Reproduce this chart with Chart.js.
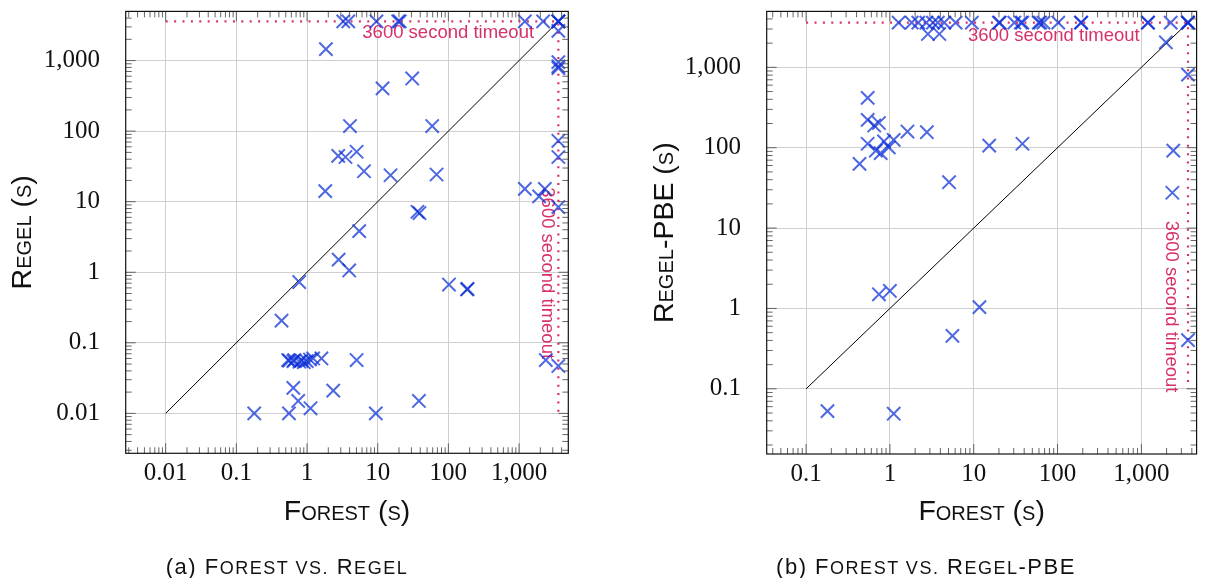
<!DOCTYPE html>
<html><head><meta charset="utf-8">
<script src="https://cdn.jsdelivr.net/npm/chart.js@4.4.1/dist/chart.umd.min.js"></script>
<style>
html,body{margin:0;padding:0;background:#fff;}
#wrap{position:relative;width:1208px;height:578px;overflow:hidden;background:#fff;}
canvas{position:absolute;top:0;}
#c1{left:0;} #c2{left:600px;}
.cap{position:absolute;top:554px;line-height:26px;font-family:"Liberation Sans",Arial,sans-serif;font-size:22px;color:#111;white-space:nowrap;transform:translateX(-50%);letter-spacing:1.5px;}
.s{font-size:0.82em;}
</style></head><body>
<div id="wrap">
<canvas id="c1" width="600" height="578"></canvas>
<canvas id="c2" width="608" height="578"></canvas>
<div class="cap" style="left:287px">(a) F<span class="s">OREST VS.</span> R<span class="s">EGEL</span></div>
<div class="cap" style="left:926px">(b) F<span class="s">OREST VS.</span> R<span class="s">EGEL</span>-PBE</div>
</div>
<script>
// ---- data: (a) Forest vs. Regel ----
const regelForest = [3.25,3.83,9.6,19.5,20.5,1208,2193,3600,3600,3600,
  3600,3600,3600,3600,3600,3600,3600,3600,
  2393,1208,2317,1923,
  1.85,11.7,30.8,4.05,59,2.76,3.5,5.03,6.4,15.2,68,1.81,36.5,39,
  5.47,2.8,3.95,0.776,102,184,187,0.436,
  0.54,0.56,0.64,0.66,0.78,0.84,0.9,0.99,1.1,1.22,1.6,5.03,
  0.64,2.35,0.75,38.3,1.12,0.179,0.555,9.4];
const regelTime = [3600,3600,3600,3600,3600,3600,3600,3600,3600,3600,
  2640,950,830,780,73,43,8.4,0.047,
  0.057,15.2,15.2,11.9,
  1456,403,558,118,118,44.6,43,51,27,23.7,24.3,14.1,7.2,6.9,
  3.83,1.51,1.06,0.726,0.67,0.57,0.58,0.206,
  0.057,0.056,0.055,0.057,0.054,0.056,0.053,0.055,0.058,0.06,0.06,0.057,
  0.023,0.021,0.015,0.015,0.0118,0.01,0.01,0.01];

// ---- data: (b) Forest vs. Regel-PBE ----
const pbeForest = [1.27,1.82,2.18,2.72,3.26,3.73,4.45,6.08,9.5,20.4,20,30.5,36.5,38,59.7,62,68,102,190,192,1197,1200,2240,3600,3600,3600,
  2.84,3.89,1960,3600,
  0.543,0.543,0.65,0.74,1.62,2.76,0.543,0.85,1.11,0.68,0.776,0.97,0.434,
  5.08,15.3,38.1,2404,2343,0.74,1.0,11.7,5.57,3600,0.18,1.11];
const pbeTime = [3600,3600,3600,3600,3600,3600,3600,3600,3600,3600,3600,3600,3600,3600,3600,3600,3600,3600,3600,3600,3600,3600,3600,3600,3600,3600,
  2600,2600,2050,811,
  417,222,189,203,159,156,112,120,125,92,85.5,101,63,
  37.2,106,112,92,27.5,1.5,1.65,1.04,0.455,0.403,0.0528,0.049];

// ---- reference lines ----
const timeout = 3600;
const diagA = [0.01, 3600];
const diagB = [0.1, 3600];

// ---- ticks ----
const ticksA = [0.01, 0.1, 1, 10, 100, 1000];
const labelsA = ['0.01', '0.1', '1', '10', '100', '1,000'];
const ticksB = [0.1, 1, 10, 100, 1000];
const labelsB = ['0.1', '1', '10', '100', '1,000'];

const noteText = '3600 second timeout';
const titleX = 'Forest (s)';
const titleYA = 'Regel (s)';
const titleYB = 'Regel-PBE (s)';

// ---- styles ----
const MARK = 'rgba(10,45,215,0.72)';
const RED = '#d8306a';
const TICKFONT = {family: '"Liberation Serif", "DejaVu Serif", serif', size: 25};
const TITLEFONT = {family: '"Liberation Sans", Arial, sans-serif', size: 28.5, weight: 'small-caps'};

const framePlugin = {
  id: 'frame',
  beforeDatasetsDraw(chart, args, o) {
    const {ctx, scales: {x, y}} = chart;
    const px = x.getPixelForValue(timeout), py = y.getPixelForValue(timeout);
    ctx.save();
    ctx.fillStyle = RED;
    ctx.font = '18.5px "Liberation Sans", Arial, sans-serif';
    ctx.textAlign = 'right'; ctx.textBaseline = 'middle';
    ctx.fillText(noteText, px + o.hDx, py + o.hDy);
    ctx.translate(px + o.vDx, py + o.vDy);
    ctx.rotate(Math.PI / 2);
    ctx.textAlign = 'left';
    ctx.fillText(noteText, 0, 0);
    ctx.restore();
  },
  afterDraw(chart) {
    const {ctx, chartArea: a, scales: {x, y}} = chart;
    ctx.save();
    ctx.strokeStyle = '#555'; ctx.lineWidth = 0.9;
    const seg = (x1, y1, x2, y2) => { ctx.beginPath(); ctx.moveTo(x1, y1); ctx.lineTo(x2, y2); ctx.stroke(); };
    const each = (scale, fn) => {
      for (let e = Math.floor(Math.log10(scale.min)); e <= Math.ceil(Math.log10(scale.max)); e++) {
        for (let k = 1; k <= 9; k++) {
          const v = k * Math.pow(10, e);
          if (v < scale.min || v > scale.max) continue;
          fn(scale.getPixelForValue(v), k === 1 ? 10 : 6);
        }
      }
    };
    each(x, (p, l) => { seg(p, a.bottom, p, a.bottom - l); seg(p, a.top, p, a.top + l); });
    each(y, (p, l) => { seg(a.left, p, a.left + l, p); seg(a.right, p, a.right - l, p); });
    ctx.strokeStyle = '#111'; ctx.lineWidth = 1.2;
    ctx.strokeRect(a.left, a.top, a.right - a.left, a.bottom - a.top);
    ctx.restore();
  }
};

function zeroPad(s) { s.paddingTop = 0; s.paddingBottom = 0; s.paddingLeft = 0; s.paddingRight = 0; }

function makeChart(id, xs, ys, diag, tickVals, tickLabels, ytitle, cfg) {
  const pts = xs.map((v, i) => ({x: v, y: ys[i]}));
  const lo = diag[0];
  return new Chart(document.getElementById(id), {
    type: 'scatter',
    data: {datasets: [
      {data: pts, pointStyle: 'crossRot', pointRadius: 9.4, pointBorderWidth: 2, borderColor: MARK, backgroundColor: MARK},
      {data: [{x: diag[0], y: diag[0]}, {x: diag[1], y: diag[1]}], showLine: true, pointRadius: 0, borderColor: '#000', borderWidth: 1},
      {data: [{x: lo, y: timeout}, {x: timeout, y: timeout}, {x: timeout, y: lo}], showLine: true, pointRadius: 0,
       borderColor: RED, borderWidth: 2.2, borderDash: [2, 6.4]}
    ]},
    options: {
      responsive: false, animation: false, events: [],
      layout: {padding: cfg.pad},
      plugins: {legend: {display: false}, tooltip: {enabled: false},
        frame: cfg.note},
      scales: {
        x: {type: 'logarithmic', min: cfg.xmin, max: cfg.xmax,
          afterBuildTicks: s => { s.ticks = tickVals.map(v => ({value: v})); },
          afterFit: s => { s.height = cfg.xh; zeroPad(s); },
          ticks: {font: TICKFONT, color: '#111', padding: 5, maxRotation: 0, autoSkip: false,
            callback: (v, i) => tickLabels[i]},
          grid: {color: '#cfcfcf', lineWidth: 1, drawTicks: false},
          border: {display: false},
          title: {display: true, text: titleX, font: TITLEFONT, color: '#111', padding: {top: 0, bottom: 0.5}}
        },
        y: {type: 'logarithmic', min: cfg.ymin, max: cfg.ymax,
          afterBuildTicks: s => { s.ticks = tickVals.map(v => ({value: v})); },
          afterFit: s => { s.width = cfg.yw; zeroPad(s); },
          ticks: {font: TICKFONT, color: '#111', padding: 25.7, autoSkip: false,
            callback: (v, i) => tickLabels[i]},
          grid: {color: '#cfcfcf', lineWidth: 1, drawTicks: false},
          border: {display: false},
          title: {display: true, text: ytitle, font: TITLEFONT, color: '#111', padding: {top: 5.6, bottom: 0}}
        }
      }
    },
    plugins: [framePlugin]
  });
}

makeChart('c1', regelForest, regelTime, diagA, ticksA, labelsA, titleYA, {
  pad: {left: 0, top: 10.7, right: 31.7, bottom: 48},
  xh: 76.7, yw: 125.7,
  xmin: Math.pow(10, -2.566), xmax: Math.pow(10, 3.697),
  ymin: Math.pow(10, -2.566), ymax: Math.pow(10, 3.697),
  note: {hDx: -24.3, hDy: 11.6, vDx: -11.6, vDy: 166}
});
makeChart('c2', pbeForest, pbeTime, diagB, ticksB, labelsB, titleYB, {
  pad: {left: 42, top: 10.7, right: 1.5, bottom: 48},
  xh: 76, yw: 124.7,
  xmin: Math.pow(10, -1.47), xmax: Math.pow(10, 3.659),
  ymin: Math.pow(10, -1.811), ymax: Math.pow(10, 3.696),
  note: {hDx: -48.3, hDy: 13, vDx: -16.6, vDy: 198}
});
</script>
</body></html>
